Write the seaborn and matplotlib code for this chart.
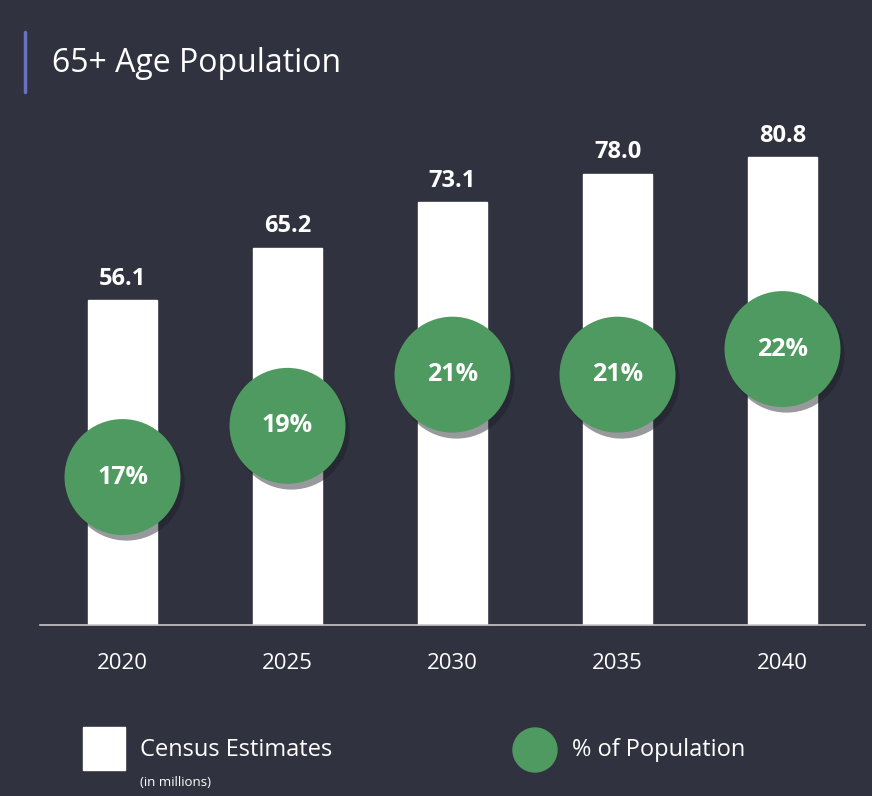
import matplotlib
matplotlib.use("Agg")
import matplotlib.pyplot as plt
import seaborn as sns
import pandas as pd
import numpy as np

years = ["2020", "2025", "2030", "2035", "2040"]
census = [56.1, 65.2, 73.1, 78.0, 80.8]
pct = [17, 19, 21, 21, 22]

BG = "#30323f"
GREEN = "#4f9a60"

sns.set_theme(style="white")
plt.rcParams['font.family'] = ['Open Sans', 'DejaVu Sans']

df = pd.DataFrame({"year": years, "census": census, "pct": pct})

fig = plt.figure(figsize=(8.72, 7.96), dpi=100, facecolor=BG)
ax = fig.add_axes([40/872, 171/796, 825/872, 525/796])
ax.set_facecolor(BG)

sns.barplot(data=df, x="year", y="census", color="white", width=0.42,
            saturation=1, ax=ax)
ax.set_xlim(-0.5, 4.5)
ax.set_ylim(0, 90.7)
for i, v in enumerate(census):
    ax.text(i, v + 1.6, f"{v:.1f}", ha="center", va="bottom", color="white",
            fontsize=17, fontweight="bold")

ax.set_xlabel("")
ax.set_ylabel("")
ax.set_yticks([])
for s in ["top", "left", "right"]:
    ax.spines[s].set_visible(False)
ax.spines["bottom"].set_color("#c8c8cc")
ax.spines["bottom"].set_linewidth(1.2)
ax.tick_params(axis="x", which="major", length=0, colors="white",
               labelsize=16, pad=20)
ax.set_xticks(np.arange(-0.5, 5, 1), minor=True)
ax.tick_params(axis="x", which="minor", length=8, width=1.2, color="#c8c8cc",
               direction="out")

ax2 = ax.twinx()
ax2.set_ylim(11.22, 31.73)
ax2.axis("off")
xs = np.arange(len(years))
ax2.scatter(xs + 0.02, np.array(pct) - 0.2, s=7000, color="#1c1d26", alpha=0.45,
            linewidths=0, zorder=2)
sns.scatterplot(x=xs, y=pct, s=6970, color=GREEN, edgecolor="none",
                ax=ax2, zorder=3, legend=False)
for i, p in enumerate(pct):
    ax2.text(i, p, f"{p}%", ha="center", va="center", color="white",
             fontsize=18, fontweight="bold", zorder=4)

# title with accent bar
fig.add_artist(plt.Line2D([25/872, 25/872], [1 - 32/796, 1 - 92/796],
                          color="#6a72c0", linewidth=2.5))
fig.text(52/872, 1 - 63/796, "65+ Age Population", color="white",
         fontsize=23, va="center", ha="left")

# legend
fig.add_artist(plt.Rectangle((83/872, 1 - 770/796), 42/872, 43/796,
                             color="white", transform=fig.transFigure))
fig.text(140/872, 1 - 750/796, "Census Estimates", color="white",
         fontsize=17, va="center")
fig.text(140/872, 1 - 782/796, "(in millions)", color="white",
         fontsize=9.5, va="center")
fig.add_artist(matplotlib.patches.Ellipse((535/872, 1 - 750/796), 44/872, 44/796,
                                          color=GREEN, transform=fig.transFigure))
fig.text(572/872, 1 - 750/796, "% of Population", color="white",
         fontsize=17, va="center")

fig.savefig("out.png", dpi=100, facecolor=BG)
